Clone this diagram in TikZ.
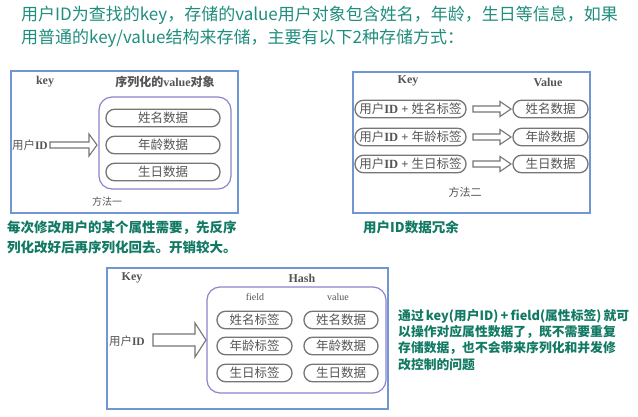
\documentclass[tikz,border=0pt]{standalone}
\usepackage{fontspec}
\setmainfont{Liberation Serif}
\newfontfamily\cjk{Noto Sans CJK SC}
\usetikzlibrary{calc}
\definecolor{titlecol}{RGB}{32,142,126}
\definecolor{notecol}{RGB}{18,122,100}
\definecolor{boxblue}{RGB}{112,150,212}
\definecolor{innerpurple}{RGB}{140,132,204}
\definecolor{pillgray}{RGB}{118,118,118}
\definecolor{labgray}{RGB}{85,85,85}
\newcommand\C[1]{{\cjk #1}}
\newcommand\blockarr[6]{%
  \draw[arr] (#1,#3-#4) -- (#2-#6,#3-#4) -- (#2-#6,#3-#5) -- (#2,#3) -- (#2-#6,#3+#5) -- (#2-#6,#3+#4) -- (#1,#3+#4) -- cycle;}
\begin{document}
\begin{tikzpicture}[x=1pt,y=-1pt,
  outerbox/.style={draw=boxblue,line width=1.1pt,inner sep=0pt},
  innerbox/.style={draw=innerpurple,line width=1.2pt,rounded corners=13pt,inner sep=0pt},
  pill/.style={draw=pillgray,line width=1.3pt,rounded corners=8.5pt,minimum height=17.5pt,inner sep=0pt,text=labgray,font=\cjk\fontsize{12.5}{14}\selectfont},
  lab/.style={text=labgray,inner sep=0pt,font=\fontsize{12}{14}\selectfont},
  arr/.style={draw=pillgray,line width=1.1pt,fill=white},
  title/.style={text=titlecol,inner sep=0pt,anchor=west,font=\cjk\fontsize{17}{20}\selectfont},
  note/.style={text=notecol,inner sep=0pt,anchor=north west,align=left,font=\cjk\bfseries\fontsize{13.5}{19.5}\selectfont}]
\useasboundingbox[fill=white] (0,0) rectangle (638,416);

% title
\node[title] (t1) at (21,15.5) {用户ID为查找的key，存储的value用户对象包含姓名，年龄，生日等信息，如果};
\node[title] (t2) at (21,38) {用普通的key/value结构来存储，主要有以下2种存储方式：};

% ---------- method 1
\node[outerbox,minimum width=227pt,minimum height=142pt] (b1) at (124.5,142) {};
\node[lab,font=\bfseries\fontsize{12}{14}\selectfont] (k1) at (45,82) {key};
\node[lab,font=\bfseries\fontsize{12}{14}\selectfont] (v1) at (165,82) {\C{序列化的}value\C{对象}};
\node[innerbox,minimum width=132pt,minimum height=92pt] (i1) at (165,143) {};
\node[pill,minimum width=114pt] (p11) at (163,118) {姓名数据};
\node[pill,minimum width=114pt] (p12) at (163,145) {年龄数据};
\node[pill,minimum width=114pt] (p13) at (163,172) {生日数据};
\node[lab,anchor=east,font=\bfseries\fontsize{11.5}{14}\selectfont] (u1) at (48,145) {\C{\mdseries 用户}ID};
\blockarr{50}{97}{145}{3}{11}{8}
\node[lab,font=\cjk\fontsize{10}{12}\selectfont] (m1) at (107,202) {方法一};

% ---------- method 2
\node[outerbox,minimum width=237pt,minimum height=141pt] (b2) at (471.5,142.5) {};
\node[lab,font=\bfseries\fontsize{12}{14}\selectfont] (k2) at (408,81) {Key};
\node[lab,font=\bfseries\fontsize{12}{14}\selectfont] (v2) at (548,82) {Value};
\foreach \y/\n/\t/\d in {109/1/姓名标签/姓名数据,137/2/年龄标签/年龄数据,164/3/生日标签/生日数据}{
  \node[pill,minimum width=111pt] (l2\n) at (410.5,\y) {用户{\rmfamily\bfseries ID + }\t};
  \node[pill,minimum width=75pt] (r2\n) at (550.5,\y) {\d};
  \blockarr{473}{511}{\y}{3}{7.5}{11}
}
\node[lab,font=\cjk\fontsize{11}{12}\selectfont] (m2) at (465,192) {方法二};

% ---------- notes
\node[note] (n1) at (7,221) {每次修改用户的某个属性需要，先反序\\列化改好后再序列化回去。开销较大。};
\node[note] (n2) at (363,221) {用户ID数据冗余};

% ---------- hash
\node[outerbox,minimum width=281pt,minimum height=141pt] (b3) at (247.5,338.5) {};
\node[lab,font=\bfseries\fontsize{12}{14}\selectfont] (k3) at (132,278) {Key};
\node[lab,font=\bfseries\fontsize{12}{14}\selectfont] (h3) at (302,278) {Hash};
\node[innerbox,minimum width=179pt,minimum height=106pt] (i3) at (296.5,340) {};
\node[lab,font=\fontsize{10}{12}\selectfont] (f3) at (255,297) {field};
\node[lab,font=\fontsize{10}{12}\selectfont] (w3) at (338,297) {value};
\foreach \y/\n/\t/\d in {320/1/姓名标签/姓名数据,346/2/年龄标签/年龄数据,373/3/生日标签/生日数据}{
  \node[pill,minimum width=75pt] (l3\n) at (254.5,\y) {\t};
  \node[pill,minimum width=74pt] (r3\n) at (341,\y) {\d};
}
\node[lab,anchor=east,font=\bfseries\fontsize{11.5}{14}\selectfont] (u3) at (145,341) {\C{\mdseries 用户}ID};
\blockarr{153}{206}{340}{6}{17}{11}

\node[note,font=\cjk\bfseries\fontsize{12.8}{16.3}\selectfont] (n3) at (398,309) {通过\,key(用户ID)\,+\,field(属性标签)\,就可\\以操作对应属性数据了，既不需要重复\\存储数据，也不会带来序列化和并发修\\改控制的问题};
\end{tikzpicture}
\end{document}
